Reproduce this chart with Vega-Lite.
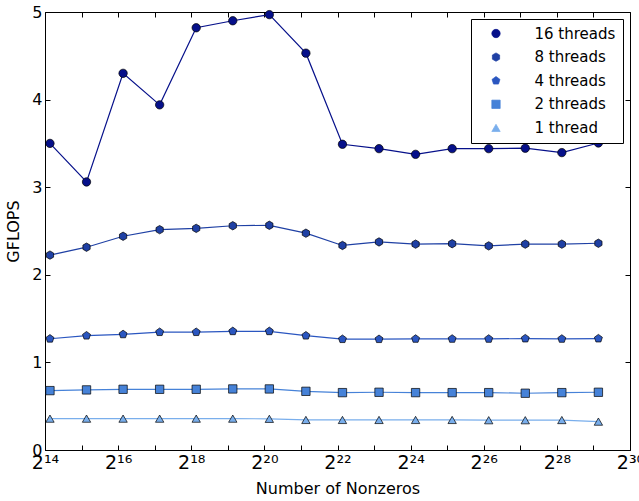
{
  "$schema": "https://vega.github.io/schema/vega-lite/v6.json",
  "autosize": "none",
  "width": 585,
  "height": 438,
  "padding": {"left": 45, "top": 12, "right": 9, "bottom": 51},
  "background": "white",
  "config": {
    "font": "DejaVu Sans",
    "view": {"stroke": "black", "strokeWidth": 1},
    "axis": {
      "grid": false,
      "domainColor": "black",
      "tickColor": "black",
      "labelColor": "black",
      "titleColor": "black",
      "labelFont": "DejaVu Sans",
      "titleFont": "DejaVu Sans",
      "labelFontSize": 16,
      "titleFontSize": 16,
      "titleFontWeight": "normal"
    },
    "legend": {
      "labelFont": "DejaVu Sans",
      "labelFontSize": 15,
      "labelColor": "black"
    }
  },
  "data": {
    "values": [
      {"series": "16 threads", "nnz": 18000, "gflops": 3.50},
      {"series": "16 threads", "nnz": 36000, "gflops": 3.06},
      {"series": "16 threads", "nnz": 72000, "gflops": 4.30},
      {"series": "16 threads", "nnz": 144000, "gflops": 3.94},
      {"series": "16 threads", "nnz": 288000, "gflops": 4.82},
      {"series": "16 threads", "nnz": 576000, "gflops": 4.90},
      {"series": "16 threads", "nnz": 1152000, "gflops": 4.97},
      {"series": "16 threads", "nnz": 2304000, "gflops": 4.53},
      {"series": "16 threads", "nnz": 4608000, "gflops": 3.49},
      {"series": "16 threads", "nnz": 9216000, "gflops": 3.44},
      {"series": "16 threads", "nnz": 18432000, "gflops": 3.375},
      {"series": "16 threads", "nnz": 36864000, "gflops": 3.44},
      {"series": "16 threads", "nnz": 73728000, "gflops": 3.44},
      {"series": "16 threads", "nnz": 147456000, "gflops": 3.445},
      {"series": "16 threads", "nnz": 294912000, "gflops": 3.395},
      {"series": "16 threads", "nnz": 589824000, "gflops": 3.505},
      {"series": "8 threads", "nnz": 18000, "gflops": 2.225},
      {"series": "8 threads", "nnz": 36000, "gflops": 2.315},
      {"series": "8 threads", "nnz": 72000, "gflops": 2.44},
      {"series": "8 threads", "nnz": 144000, "gflops": 2.515},
      {"series": "8 threads", "nnz": 288000, "gflops": 2.53},
      {"series": "8 threads", "nnz": 576000, "gflops": 2.56},
      {"series": "8 threads", "nnz": 1152000, "gflops": 2.565},
      {"series": "8 threads", "nnz": 2304000, "gflops": 2.475},
      {"series": "8 threads", "nnz": 4608000, "gflops": 2.335},
      {"series": "8 threads", "nnz": 9216000, "gflops": 2.375},
      {"series": "8 threads", "nnz": 18432000, "gflops": 2.35},
      {"series": "8 threads", "nnz": 36864000, "gflops": 2.355},
      {"series": "8 threads", "nnz": 73728000, "gflops": 2.33},
      {"series": "8 threads", "nnz": 147456000, "gflops": 2.35},
      {"series": "8 threads", "nnz": 294912000, "gflops": 2.35},
      {"series": "8 threads", "nnz": 589824000, "gflops": 2.36},
      {"series": "4 threads", "nnz": 18000, "gflops": 1.27},
      {"series": "4 threads", "nnz": 36000, "gflops": 1.305},
      {"series": "4 threads", "nnz": 72000, "gflops": 1.32},
      {"series": "4 threads", "nnz": 144000, "gflops": 1.345},
      {"series": "4 threads", "nnz": 288000, "gflops": 1.345},
      {"series": "4 threads", "nnz": 576000, "gflops": 1.355},
      {"series": "4 threads", "nnz": 1152000, "gflops": 1.355},
      {"series": "4 threads", "nnz": 2304000, "gflops": 1.305},
      {"series": "4 threads", "nnz": 4608000, "gflops": 1.265},
      {"series": "4 threads", "nnz": 9216000, "gflops": 1.265},
      {"series": "4 threads", "nnz": 18432000, "gflops": 1.268},
      {"series": "4 threads", "nnz": 36864000, "gflops": 1.268},
      {"series": "4 threads", "nnz": 73728000, "gflops": 1.268},
      {"series": "4 threads", "nnz": 147456000, "gflops": 1.272},
      {"series": "4 threads", "nnz": 294912000, "gflops": 1.268},
      {"series": "4 threads", "nnz": 589824000, "gflops": 1.272},
      {"series": "2 threads", "nnz": 18000, "gflops": 0.678},
      {"series": "2 threads", "nnz": 36000, "gflops": 0.686},
      {"series": "2 threads", "nnz": 72000, "gflops": 0.693},
      {"series": "2 threads", "nnz": 144000, "gflops": 0.693},
      {"series": "2 threads", "nnz": 288000, "gflops": 0.693},
      {"series": "2 threads", "nnz": 576000, "gflops": 0.697},
      {"series": "2 threads", "nnz": 1152000, "gflops": 0.697},
      {"series": "2 threads", "nnz": 2304000, "gflops": 0.67},
      {"series": "2 threads", "nnz": 4608000, "gflops": 0.655},
      {"series": "2 threads", "nnz": 9216000, "gflops": 0.659},
      {"series": "2 threads", "nnz": 18432000, "gflops": 0.655},
      {"series": "2 threads", "nnz": 36864000, "gflops": 0.655},
      {"series": "2 threads", "nnz": 73728000, "gflops": 0.655},
      {"series": "2 threads", "nnz": 147456000, "gflops": 0.648},
      {"series": "2 threads", "nnz": 294912000, "gflops": 0.655},
      {"series": "2 threads", "nnz": 589824000, "gflops": 0.659},
      {"series": "1 thread", "nnz": 18000, "gflops": 0.358},
      {"series": "1 thread", "nnz": 36000, "gflops": 0.358},
      {"series": "1 thread", "nnz": 72000, "gflops": 0.358},
      {"series": "1 thread", "nnz": 144000, "gflops": 0.358},
      {"series": "1 thread", "nnz": 288000, "gflops": 0.358},
      {"series": "1 thread", "nnz": 576000, "gflops": 0.358},
      {"series": "1 thread", "nnz": 1152000, "gflops": 0.356},
      {"series": "1 thread", "nnz": 2304000, "gflops": 0.343},
      {"series": "1 thread", "nnz": 4608000, "gflops": 0.343},
      {"series": "1 thread", "nnz": 9216000, "gflops": 0.343},
      {"series": "1 thread", "nnz": 18432000, "gflops": 0.343},
      {"series": "1 thread", "nnz": 36864000, "gflops": 0.343},
      {"series": "1 thread", "nnz": 73728000, "gflops": 0.34},
      {"series": "1 thread", "nnz": 147456000, "gflops": 0.34},
      {"series": "1 thread", "nnz": 294912000, "gflops": 0.342},
      {"series": "1 thread", "nnz": 589824000, "gflops": 0.324}
    ]
  },
  "layer": [
    {
      "mark": {"type": "line", "strokeWidth": 1.2},
      "encoding": {
        "x": {
          "field": "nnz", "type": "quantitative",
          "scale": {"type": "log", "base": 2, "domain": [16384, 1073741824], "nice": false},
          "axis": {
            "orient": "bottom",
            "title": "Number of Nonzeros",
            "titlePadding": 8,
            "values": [16384, 32768, 65536, 131072, 262144, 524288, 1048576, 2097152, 4194304, 8388608, 16777216, 33554432, 67108864, 134217728, 268435456, 536870912, 1073741824],
            "labelExpr": "round(log(datum.value)/LN2) == 14 ? '2¹⁴' : round(log(datum.value)/LN2) == 16 ? '2¹⁶' : round(log(datum.value)/LN2) == 18 ? '2¹⁸' : round(log(datum.value)/LN2) == 20 ? '2²⁰' : round(log(datum.value)/LN2) == 22 ? '2²²' : round(log(datum.value)/LN2) == 24 ? '2²⁴' : round(log(datum.value)/LN2) == 26 ? '2²⁶' : round(log(datum.value)/LN2) == 28 ? '2²⁸' : round(log(datum.value)/LN2) == 30 ? '2³⁰' : ''",
            "labelFontSize": 19,
            "tickSize": -5,
            "labelPadding": 8,
            "labelFlush": false,
            "labelOverlap": false
          }
        },
        "y": {
          "field": "gflops", "type": "quantitative",
          "scale": {"domain": [0, 5], "nice": false, "zero": true},
          "axis": {
            "orient": "left",
            "title": "GFLOPS",
            "titlePadding": 10,
            "values": [0, 1, 2, 3, 4, 5],
            "format": "d",
            "tickSize": -5,
            "labelPadding": 8,
            "labelFlush": false
          }
        },
        "color": {
          "field": "series", "type": "nominal",
          "scale": {
            "domain": ["16 threads", "8 threads", "4 threads", "2 threads", "1 thread"],
            "range": ["#06108a", "#1f40a4", "#2a56c0", "#4682d8", "#79aeec"]
          }
        }
      }
    },
    {
      "mark": {"type": "point", "filled": true, "stroke": "black", "strokeWidth": 0.7, "opacity": 1, "size": 70},
      "encoding": {
        "x": {
          "field": "nnz", "type": "quantitative",
          "axis": {
            "orient": "top",
            "title": null,
            "labels": false,
            "domain": false,
            "values": [16384, 32768, 65536, 131072, 262144, 524288, 1048576, 2097152, 4194304, 8388608, 16777216, 33554432, 67108864, 134217728, 268435456, 536870912, 1073741824],
            "tickSize": -5
          }
        },
        "y": {
          "field": "gflops", "type": "quantitative",
          "axis": {
            "orient": "right",
            "title": null,
            "labels": false,
            "domain": false,
            "values": [0, 1, 2, 3, 4, 5],
            "tickSize": -5
          }
        },
        "color": {
          "field": "series", "type": "nominal",
          "legend": {
            "title": null,
            "orient": "top-right",
            "offset": 7,
            "padding": 7,
            "strokeColor": "black",
            "fillColor": "white",
            "cornerRadius": 0,
            "symbolSize": 70,
            "symbolStrokeColor": "black",
            "symbolStrokeWidth": 0.7,
            "symbolOffset": 10.5,
            "rowPadding": 7.6,
            "labelOffset": 31
          }
        },
        "shape": {
          "field": "series", "type": "nominal",
          "scale": {
            "domain": ["16 threads", "8 threads", "4 threads", "2 threads", "1 thread"],
            "range": ["circle", "M0,-1L0.866,-0.5L0.866,0.5L0,1L-0.866,0.5L-0.866,-0.5Z", "M0,-1L0.951,-0.309L0.588,0.809L-0.588,0.809L-0.951,-0.309Z", "square", "triangle-up"]
          },
          "legend": {
            "title": null,
            "orient": "top-right"
          }
        }
      }
    }
  ],
  "resolve": {"axis": {"x": "independent", "y": "independent"}}
}
